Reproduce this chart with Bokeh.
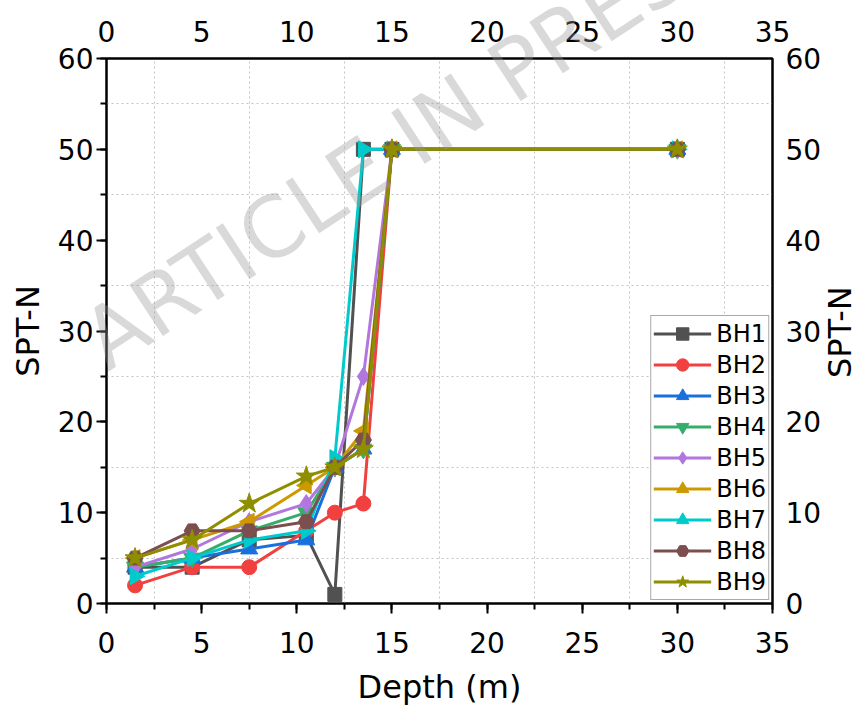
from bokeh.plotting import figure
from bokeh.models import LinearAxis, SingleIntervalTicker, FixedTicker, Legend, Div
from bokeh.layouts import column
from bokeh.embed import file_html
from bokeh.resources import INLINE
import numpy as np
import math

depth = [1.5, 4.5, 7.5, 10.5, 12, 13.5, 15, 30]
series_names = ["BH1", "BH2", "BH3", "BH4", "BH5", "BH6", "BH7", "BH8", "BH9"]
bh1 = [4, 4, 7, 7.5, 1, 50, 50, 50]
bh2 = [2, 4, 4, 8, 10, 11, 50, 50]
bh3 = [4, 5, 6, 7, 15, 17, 50, 50]
bh4 = [4, 5, 8, 10, 15, 17, 50, 50]
bh5 = [4, 6, 9, 11, 15, 25, 50, 50]
bh6 = [5, 7, 9, 13, 15, 19, 50, 50]
bh7 = [3, 5, 7, 8, 16, 50, 50, 50]
bh8 = [5, 8, 8, 9, 15, 18, 50, 50]
bh9 = [5, 7, 11, 14, 15, 17, 50, 50]
values = [bh1, bh2, bh3, bh4, bh5, bh6, bh7, bh8, bh9]

x_max, x_step = 35, 5
y_max, y_step = 60, 10

colors = ["#515151", "#F14040", "#1A6FDF", "#37AD6B", "#B177DE",
          "#CC9900", "#00CBCC", "#7D4E4E", "#8E8E00"]
markers = ["square", "circle", "triangle", "inverted_triangle", "diamond",
           "triangle", "triangle", "hex", "star"]
angles = [0, 0, 0, 0, 0, math.pi / 2, -math.pi / 2, 0, 0]
sizes = [14, 15, 17, 17, 18, 17, 17, 16, 21]

FONT = "DejaVu Sans"

p = figure(width=857, height=711, output_backend="svg", toolbar_location=None,
           x_range=(0, x_max), y_range=(0, y_max),
           min_border_left=106, min_border_right=85, min_border_top=58,
           min_border_bottom=108)
p.background_fill_color = "white"
p.border_fill_color = "white"
p.outline_line_color = "black"
p.outline_line_width = 2

items = []
for name, vals, c, m, a, s in zip(series_names, values, colors, markers, angles, sizes):
    r1 = p.line(depth, vals, line_color=c, line_width=3)
    r2 = p.scatter(depth, vals, marker=m, angle=a, size=s, fill_color=c, line_color=c)
    items.append((name, [r1, r2]))

legend = Legend(items=items, location="bottom_right")
legend.label_text_font = FONT
legend.label_text_font_size = "24px"
legend.label_text_color = "black"
legend.border_line_color = "#555555"
legend.border_line_width = 1
legend.background_fill_alpha = 1
legend.margin = 3
legend.padding = 2
legend.spacing = 0
legend.glyph_width = 58
legend.glyph_height = 31
legend.label_height = 31
legend.label_standoff = 5
p.add_layout(legend, "center")

# dotted grid lines halfway between the major ticks only
p.xgrid.ticker = FixedTicker(ticks=list(np.arange(x_step / 2, x_max, x_step)))
p.ygrid.ticker = FixedTicker(ticks=list(np.arange(y_step / 2, y_max, y_step)))
for g in (p.xgrid, p.ygrid):
    g.grid_line_color = "#c4c4c4"
    g.grid_line_dash = "2 3"
    g.grid_line_width = 1
    g.minor_grid_line_color = None

def style(ax, ticks=True, standoff=4):
    ax.major_label_text_font = FONT
    ax.major_label_text_font_size = "28px"
    ax.major_label_text_color = "black"
    ax.axis_label_text_font = FONT
    ax.axis_label_text_font_size = "32px"
    ax.axis_label_text_font_style = "normal"
    ax.axis_label_text_color = "black"
    ax.axis_line_color = "black"
    ax.axis_line_width = 2
    ax.major_label_standoff = standoff
    if ticks:
        ax.major_tick_out = 10
        ax.major_tick_in = 0
        ax.minor_tick_out = 6
        ax.minor_tick_in = 0
        ax.major_tick_line_width = 2
        ax.minor_tick_line_width = 2
        ax.major_tick_line_color = "black"
        ax.minor_tick_line_color = "black"
    else:
        ax.major_tick_out = 0
        ax.major_tick_in = 0
        ax.minor_tick_out = 0
        ax.minor_tick_in = 0
        ax.major_tick_line_color = None
        ax.minor_tick_line_color = None

xb = p.xaxis[0]
xb.ticker = SingleIntervalTicker(interval=x_step, num_minor_ticks=2)
xb.axis_label = "Depth (m)"
style(xb, True, 18)
xb.axis_label_standoff = 12

yl = p.yaxis[0]
yl.ticker = SingleIntervalTicker(interval=y_step, num_minor_ticks=2)
yl.axis_label = "SPT-N"
style(yl, True, 3)
yl.axis_label_standoff = 8

xt = LinearAxis(ticker=SingleIntervalTicker(interval=x_step, num_minor_ticks=2))
style(xt, False, 17)
p.add_layout(xt, "above")

yr = LinearAxis(ticker=SingleIntervalTicker(interval=y_step, num_minor_ticks=2))
style(yr, False, 13)
p.add_layout(yr, "right")

# right-hand axis title, reading bottom-to-top like the left one
right_title = Div(text="SPT-N", styles={
    "position": "absolute", "left": "851px", "top": "351px",
    "font-family": "DejaVu Sans", "font-size": "32px", "line-height": "32px",
    "color": "black", "white-space": "nowrap",
    "transform-origin": "0px 27px", "transform": "rotate(-90deg)",
    "margin": "0", "padding": "0", "z-index": "5"})

# publisher watermark laid over the page
wm = Div(text="ARTICLE IN PRESS", styles={
    "position": "absolute", "left": "108px", "top": "301px",
    "font-family": "DejaVu Sans", "font-size": "84px", "line-height": "84px",
    "color": "rgba(150,150,150,0.36)", "white-space": "nowrap",
    "transform-origin": "0px 71px", "transform": "rotate(-33.3deg)",
    "pointer-events": "none", "z-index": "10", "margin": "0", "padding": "0"})

layout = column(p, right_title, wm, styles={"overflow": "hidden", "position": "relative",
                                            "width": "857px", "height": "711px"})

open("out.html", "w").write(file_html(layout, INLINE))
